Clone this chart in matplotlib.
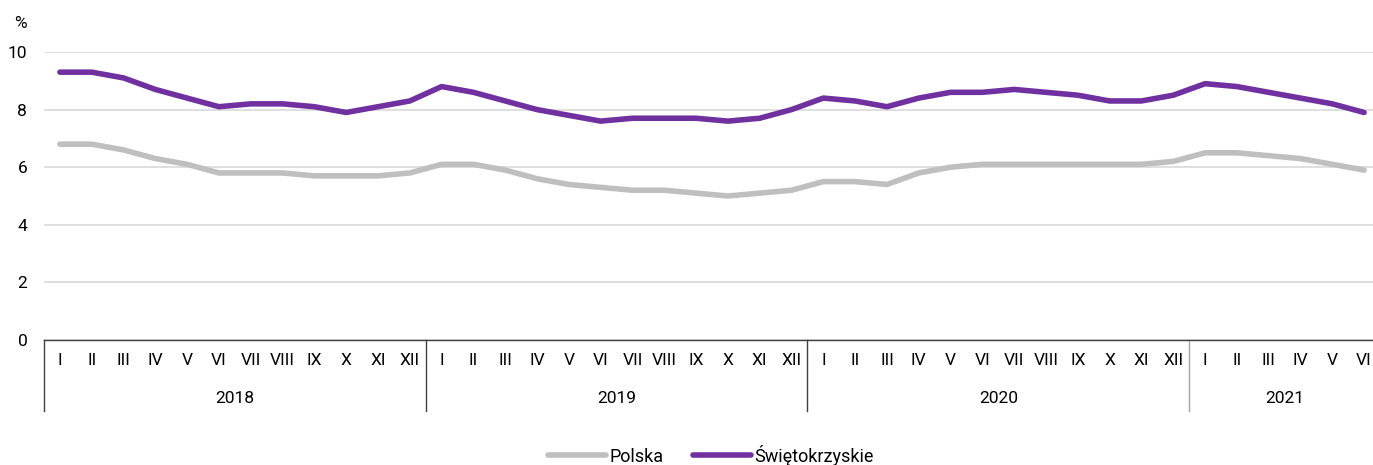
import matplotlib
matplotlib.use("Agg")
from matplotlib import pyplot as plt
import matplotlib.transforms as mtransforms
import numpy as np

# data
years = ["2018", "2019", "2020", "2021"]
months_per_year = [12, 12, 12, 6]
month_names = ["I", "II", "III", "IV", "V", "VI", "VII", "VIII", "IX", "X", "XI", "XII"]

polska = [6.8, 6.8, 6.6, 6.3, 6.1, 5.8, 5.8, 5.8, 5.7, 5.7, 5.7, 5.8,
          6.1, 6.1, 5.9, 5.6, 5.4, 5.3, 5.2, 5.2, 5.1, 5.0, 5.1, 5.2,
          5.5, 5.5, 5.4, 5.8, 6.0, 6.1, 6.1, 6.1, 6.1, 6.1, 6.1, 6.2,
          6.5, 6.5, 6.4, 6.3, 6.1, 5.9]
swietokrzyskie = [9.3, 9.3, 9.1, 8.7, 8.4, 8.1, 8.2, 8.2, 8.1, 7.9, 8.1, 8.3,
                  8.8, 8.6, 8.3, 8.0, 7.8, 7.6, 7.7, 7.7, 7.7, 7.6, 7.7, 8.0,
                  8.4, 8.3, 8.1, 8.4, 8.6, 8.6, 8.7, 8.6, 8.5, 8.3, 8.3, 8.5,
                  8.9, 8.8, 8.6, 8.4, 8.2, 7.9]
yticks = [0, 2, 4, 6, 8, 10]

plt.rcParams['font.family'] = ['Roboto', 'DejaVu Sans']
plt.rcParams['font.size'] = 12.5

W, H = 1373, 465
fig = plt.figure(figsize=(W / 100, H / 100), dpi=100)
ax_left, ax_right = 44 / W, 1380 / W
ax_bottom, ax_top = 1 - 340 / H, 1 - 52 / H
ax = fig.add_axes([ax_left, ax_bottom, ax_right - ax_left, ax_top - ax_bottom])

labels = []
for n in months_per_year:
    labels += month_names[:n]
x = np.arange(len(labels))

ax.plot(x, polska, color="#BFBFBF", lw=4.0, solid_capstyle="round", label="Polska", zorder=3)
ax.plot(x, swietokrzyskie, color="#7030A0", lw=4.0, solid_capstyle="round", label="Świętokrzyskie", zorder=3)

ax.set_xlim(-0.5, len(labels) - 0.5)
ax.set_ylim(0, 10)
ax.set_yticks(yticks)
ax.set_xticks(x)
ax.set_xticklabels(labels)
ax.tick_params(axis="x", length=0, pad=9, labelsize=12.5)
ax.tick_params(axis="y", length=0, pad=12, labelsize=12.5)
ax.grid(axis="y", color="#D9D9D9", lw=1.2)
ax.set_axisbelow(True)
for s in ["top", "right", "left"]:
    ax.spines[s].set_visible(False)
ax.spines["bottom"].set_color("#404040")
ax.spines["bottom"].set_linewidth(1.0)

# year groups under the month labels
trans = mtransforms.blended_transform_factory(ax.transData, fig.transFigure)
y_top = ax_bottom
y_bot = 1 - 411 / H
start = 0
bounds = [-0.5]
for yr, n in zip(years, months_per_year):
    mid = start + (n - 1) / 2
    ax.text(mid, 1 - 398 / H, yr, transform=trans, ha="center", va="center", fontsize=12.5)
    start += n
    bounds.append(start - 0.5)
sep_colors = ["#404040", "#404040", "#404040", "#A6A6A6"]
for b, c in zip(bounds[:-1], sep_colors):
    ax.plot([b, b], [y_top, y_bot], transform=trans, color=c, lw=1.0, clip_on=False)

fig.text(20 / W, 1 - 23 / H, "%", ha="center", va="center", fontsize=12.5)

fig.legend(loc="center", bbox_to_anchor=(711 / W, 1 - 455 / H), ncol=2, frameon=False,
           handlelength=3.2, handletextpad=0.2, columnspacing=1.6, fontsize=13)

fig.savefig("out.png", dpi=100)
